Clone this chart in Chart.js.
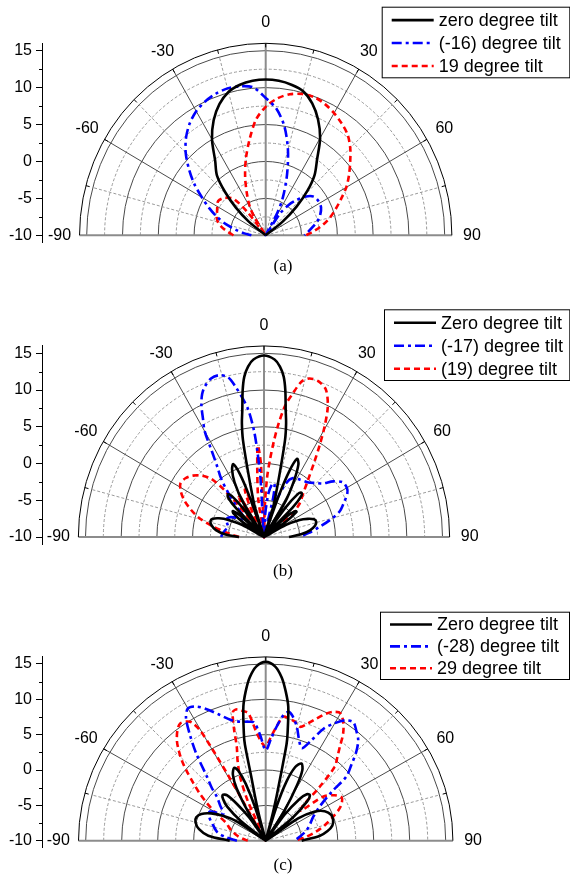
<!DOCTYPE html>
<html>
<head>
<meta charset="utf-8">
<script src="https://cdn.jsdelivr.net/npm/chart.js@4.4.1/dist/chart.umd.min.js"></script>
<style>
  body { margin: 0; background: #fff; width: 570px; height: 882px; position: relative; overflow: hidden; }
  canvas { position: absolute; left: 0; top: 0; }
</style>
</head>
<body>
<canvas id="chartA" width="570" height="882"></canvas>
<canvas id="chartB" width="570" height="882"></canvas>
<canvas id="chartC" width="570" height="882"></canvas>
<script>
// radiation patterns, gain in dB against angle in degrees (-10 dB sits at the centre)
const angleTicks = [-90, -60, -30, 0, 30, 60, 90];
const gainMin = -10;
const gainTop = 15;      // last labelled ring
const gainFrame = 16;    // outer frame ring
const ringStep = 2.5;

// (a)
const aLabels = ['zero degree tilt', '(-16) degree tilt', '19 degree tilt'];
const aZeroAngles = [-56,-52,-48,-44,-40,-35,-30,-25,-20,-15,-10,-5,0,5,10,15,20,25,30,35,40,44,48,52,56];
const aZeroGain   = [-10,-7.0,-4.4,-1.8,0.6,2.3,5.0,7.2,8.9,10.1,10.7,11.0,11.1,11.0,10.7,10.2,9.0,7.3,5.2,2.5,0.6,-1.6,-4.2,-7.0,-10];
const aNegAngles = [-90,-85,-80,-75,-70,-65,-60,-55,-50,-45,-40,-35,-30,-25,-20,-15,-10,-5,0,5,10,15,20,25,28,31,34,38,42,47,52,58,64,70,75,80,85,90];
const aNegGain   = [-8,-7,-5.8,-4.3,-2.8,-1.3,0.3,2.2,4.0,5.8,7.3,8.5,9.4,10.0,10.4,10.6,10.5,10.1,8.6,7.2,5.0,2.0,-1.3,-4.3,-6.5,-10,-6.5,-4.8,-3.6,-2.3,-1.5,-1.3,-1.4,-1.9,-2.5,-3.3,-4.0,-4.6];
const aPosAngles = [-90,-85,-80,-75,-70,-65,-60,-55,-50,-46,-42,-39,-36,-33,-30,-25,-20,-15,-10,-5,0,5,10,15,20,25,30,35,40,45,50,55,60,65,70,75,80,85,90];
const aPosGain   = [-5.5,-4.7,-3.8,-3.1,-2.7,-2.5,-2.2,-1.9,-2.2,-2.7,-3.4,-6,-10,-7.3,-5.6,-3.8,-1.6,0.7,3.1,5.7,7.4,8.6,9.4,9.8,9.9,9.6,9.1,8.5,7.8,6.7,5.4,4.2,3.0,1.6,0.4,-0.7,-1.9,-3.2,-4.4];

// (b)
const bLabels = ['Zero degree tilt', '(-17) degree tilt', '(19) degree tilt'];
const bZeroAngles = [-90,-86,-82,-78,-74,-71,-68,-65,-62,-59,-56,-53,-51,-49,-47,-45,-43,-41,-39,-37,-35,-32,-29,-26,-23.5,-21.5,-20.3,-19.3,-17.4,-16,-14.2,-12.6,-11.3,-10,-8.5,-7.2,-5.5,-3.5,0,3.5,5.5,7.2,8.5,10,11.3,12.6,14.2,16,17.4,19.3,20.3,21.5,23.5,26,29,32,35,37,39,41,43,45,47,49,51,53,56,59,62,65,68,71,74,78,82,86,90];
const bZeroGain   = [-6.5,-4.5,-3.2,-2.5,-2.2,-2.4,-3.2,-4.5,-6.5,-10,-6.5,-4.6,-4.4,-5.5,-10,-4.5,-2.6,-2.3,-2.8,-5,-10,-4.5,-1.5,0.2,0.8,-0.8,-4,-10,-5.7,-4,-1.0,3.5,5.8,7.5,10.2,12.0,13.3,14.2,14.7,14.2,13.3,12.0,10.2,7.5,5.8,3.5,-1.0,-4,-5.7,-10,-4,-0.5,1.6,1.0,-1.5,-4.5,-10,-5,-2.5,-2.0,-2.3,-4.3,-10,-5.5,-4.4,-4.3,-6.5,-10,-6.5,-4.5,-3.4,-2.6,-2.4,-2.7,-3.5,-4.8,-6.5];
const bNegAngles = [-90,-85,-80,-75,-70,-65,-60,-55,-50,-46,-43,-40,-37,-34.5,-32,-30,-28,-26,-24,-22,-19,-16,-13,-11,-9,-7.2,-5.5,-4.5,-3.5,-2,3,6,9,11.5,13.5,16,19,23,27,33,40,45,48.5,52,56,60,63,67,72,76,80,85,90];
const bNegGain   = [-4.0,-4.2,-4.5,-4.8,-4.5,-4.2,-4.6,-5.5,-6.3,-6.0,-4.5,-2.3,0.0,1.5,3.8,6.6,8.2,10.0,11.3,12.1,12.8,12.9,12.3,10.8,9.1,7.4,4.5,1.5,-2,-10,-7,-4,-2.7,-2.6,-4.5,-10,-5,-2,-1.0,-0.7,-0.3,0.4,1.0,2.3,3.3,3.4,3.1,2.2,1.1,-0.5,-2.1,-3.7,-5];
const bPosAngles = [-90,-86,-82,-78,-74,-70,-66,-62,-58,-54,-50,-46,-43,-41,-39.5,-38,-35,-33,-31,-29,-25,-22.5,-20,-18,-9,-6,-4,-2.5,-1,1.5,3,4.5,6,7.5,9.5,11.5,14,16.5,20,23.5,26.8,29.5,32,34.5,38.5,43,47.5,52,56];
const bPosGain   = [-6.5,-5.5,-4.2,-2.4,-0.5,0.9,2.2,3.2,3.8,3.6,3.0,2.0,0.8,-1.5,-5,-10,-5,-3.5,-5,-10,-5,-3,-5.5,-10,-5,-1,2.5,0,-10,-6,-2,0.5,3.0,5.5,8.2,9.8,11.8,12.5,12.5,11.8,9.8,7.2,4.7,2.5,-0.1,-2.0,-3.2,-5.2,-10];

// (c)
const cLabels = ['Zero degree tilt', '(-28) degree tilt', '29 degree tilt'];
const cZeroAngles = [-90,-85,-80,-75,-71,-67,-63,-59,-56,-53.5,-51,-48,-45,-42.5,-40,-37.5,-35,-33,-31,-28.5,-26,-23,-21,-19,-17.3,-16,-14.5,-13.3,-12.5,-12,-11.3,-9.3,-7.5,-5.5,-3,0,3,5.5,7.5,9.4,11.3,12,12.7,13.5,14.5,16,17.3,19,21.5,24.5,27,29,31.5,33.5,35.5,38.5,41,43.6,46,49,52,55,59,63,68,72.8,77,81,85,90];
const cZeroGain   = [-5,-2.0,-0.6,0.1,0.2,-0.3,-1.5,-3.2,-5,-10,-5.5,-2.8,-1.6,-1.2,-1.6,-3.5,-6,-10,-5.5,-1.5,0.4,1.2,0.6,-1.5,-5,-10,-6.7,-3.5,-0.9,3.9,5.5,9.2,11.3,13.2,14.7,15.3,14.7,13.2,11.3,9.2,5.5,3.9,-0.5,-3.5,-6.7,-10,-5,-1.2,1.2,2.0,1.2,-1.0,-5,-10,-5.5,-2.5,-1.3,-1.1,-2,-5,-10,-4.5,-2,-0.8,-0.2,-0.2,-0.5,-1.3,-2.5,-5];
const cNegAngles = [-90,-85,-80,-72,-67,-62,-57,-52,-47.5,-45,-42,-38,-35,-32.5,-30,-27,-24,-20,-16,-12,-8,-5.5,-3,0,3,5.5,8,10,12,15,18,21,24,27,30,33,36,39,42,45,48,51,53,57,63,70,76,83,90];
const cNegGain   = [-6,-4.5,-3.2,-2.2,-1.5,-1.2,-3,-2,-0.8,0.6,2.2,5.7,8.4,10.6,11.6,11.3,10.4,9.0,7.8,7.2,7.0,6.8,5.0,2.8,4.5,6.3,8.0,8.5,8.0,6.7,5.0,4.0,5.5,7.8,9.2,10.3,10.7,10.0,9.2,7.8,6.0,4.4,1.5,-1,-2.6,-3.5,-4.2,-5.2,-6];
const cPosAngles = [-90,-85,-80,-75,-70,-65.5,-61,-57,-54,-51,-48,-45.7,-43,-41,-38,-35.6,-33,-31.5,-30.3,-29.8,-29.4,-28.5,-24,-21.5,-19,-16.8,-15.5,-14,-12,-9.7,-7.6,-4.7,-2,0,2.5,5.3,7.9,10.5,13.6,16.5,19.5,22.3,25,27.3,30,33,35.5,37.8,40,42.5,44.5,46.5,49,52,56,60,65,70,75,80,85,90];
const cPosGain   = [-7.5,-6.8,-6,-5.3,-4.6,-4.0,-2.2,-0.3,1.3,2.9,4.8,6.3,7.8,8.8,9.9,10.4,10.1,9.6,8.1,5,0,-10,-4,-0.3,2.0,3.9,6.5,8.8,9.0,8.6,8.2,5.3,3.8,3.3,4.5,6.2,7.7,7.6,7.3,6.8,7.6,8.7,9.8,10.5,10.8,9.8,8.5,6.8,5.5,4.2,0.7,-3,-3.5,0.1,1.5,2.2,1.5,0.0,-1.5,-3,-4.5,-6];

const sansFont = '"Liberation Sans", Arial, Helvetica, sans-serif';
const serifFont = '"Liberation Serif", "Times New Roman", serif';

// angle/gain -> x/y in dB units, x across, y up from the -10 dB centre
function polarPoints(angles, gains) {
  return angles.map((a, i) => {
    const r = Math.max(0, gains[i] - gainMin);
    const t = a * Math.PI / 180;
    return { x: r * Math.sin(t), y: gainMin + r * Math.cos(t) };
  });
}

function frame(chart) {
  const { x, y } = chart.scales;
  const cx = x.getPixelForValue(0);
  const cy = y.getPixelForValue(gainMin);
  const kx = x.getPixelForValue(1) - cx;
  const ky = cy - y.getPixelForValue(gainMin + 1);
  return {
    cx, cy, kx, ky,
    at(r, deg) {
      const t = deg * Math.PI / 180;
      return [cx + kx * r * Math.sin(t), cy - ky * r * Math.cos(t)];
    }
  };
}

function line(ctx, p, q) {
  ctx.beginPath();
  ctx.moveTo(p[0], p[1]);
  ctx.lineTo(q[0], q[1]);
  ctx.stroke();
}

const polarFrame = {
  id: 'polarFrame',
  beforeDatasetsDraw(chart) {
    const ctx = chart.ctx;
    const f = frame(chart);
    const rTop = gainTop - gainMin;
    const rFrame = gainFrame - gainMin;
    ctx.save();
    ctx.lineWidth = 1;
    // rings
    for (let r = ringStep; r <= rTop + 1e-6; r += ringStep) {
      const major = Math.abs(r / 5 - Math.round(r / 5)) < 1e-6;
      ctx.setLineDash(major ? [] : [3, 2]);
      ctx.strokeStyle = major ? '#4a4a4a' : '#9a9a9a';
      ctx.beginPath();
      ctx.ellipse(f.cx, f.cy, f.kx * r, f.ky * r, 0, Math.PI, 2 * Math.PI);
      ctx.stroke();
    }
    // spokes
    for (let a = -75; a <= 75; a += 15) {
      if (a === 0) continue;
      if (a % 30 === 0) {
        ctx.setLineDash([]);
        ctx.strokeStyle = '#4a4a4a';
        line(ctx, f.at(0, a), f.at(rFrame, a));
      } else {
        ctx.setLineDash([3, 2]);
        ctx.strokeStyle = '#9a9a9a';
        line(ctx, f.at(0, a), f.at(rTop, a));
      }
    }
    ctx.setLineDash([]);
    ctx.strokeStyle = '#8c8c8c';
    ctx.lineWidth = 2;
    line(ctx, f.at(0, 0), f.at(rFrame, 0));
    line(ctx, f.at(rFrame, -90), f.at(rFrame, 90));
    // frame ring with ticks every 15 degrees
    ctx.strokeStyle = '#000';
    ctx.lineWidth = 1;
    ctx.beginPath();
    ctx.ellipse(f.cx, f.cy, f.kx * rFrame, f.ky * rFrame, 0, Math.PI, 2 * Math.PI);
    ctx.stroke();
    for (let a = -75; a <= 75; a += 15) {
      line(ctx, f.at(rFrame, a), f.at(rFrame - 0.55, a));
    }
    ctx.restore();
  },
  afterDraw(chart, args, opts) {
    const ctx = chart.ctx;
    const f = frame(chart);
    const area = chart.chartArea;
    const ys = chart.scales.y;
    ctx.save();
    // minor ticks on the gain axis
    ctx.strokeStyle = '#000';
    ctx.lineWidth = 1;
    for (let g = gainMin + ringStep; g < gainTop; g += 5) {
      const py = Math.round(ys.getPixelForValue(g)) + 0.5;
      line(ctx, [area.left - 3, py], [area.left, py]);
    }
    // angle labels
    ctx.fillStyle = '#000';
    ctx.font = '16px ' + sansFont;
    ctx.textAlign = 'center';
    ctx.textBaseline = 'middle';
    angleTicks.forEach(a => {
      const p = f.at(28.8, a);
      ctx.fillText(String(a), p[0], p[1]);
    });
    // legend
    const lg = opts.legend;
    ctx.strokeStyle = '#000';
    ctx.lineWidth = 1;
    ctx.strokeRect(lg.x + 0.5, lg.y + 0.5, lg.w, lg.h);
    ctx.font = '18px ' + sansFont;
    ctx.textAlign = 'left';
    chart.data.datasets.forEach((ds, i) => {
      const yy = lg.y + lg.h * (0.19 + 0.325 * i);
      ctx.setLineDash(ds.borderDash || []);
      ctx.strokeStyle = ds.borderColor;
      ctx.lineWidth = ds.borderWidth;
      line(ctx, [lg.x + 10, yy], [lg.x + 52, yy]);
      ctx.setLineDash([]);
      ctx.fillText(ds.label, lg.x + 57, yy + 1);
    });
    // caption
    ctx.font = '17px ' + serifFont;
    ctx.textAlign = 'center';
    ctx.fillText(opts.caption, 283, opts.captionY);
    ctx.restore();
  }
};

function makeChart(id, labels, series, geo, legend, caption, captionY) {
  const axisX = 42;
  const rFrame = gainFrame - gainMin;
  const styles = [
    { color: '#000000', dash: [] },
    { color: '#0000ff', dash: [10, 4, 3, 4] },
    { color: '#ff0000', dash: [6, 4] }
  ];
  return new Chart(document.getElementById(id), {
    type: 'scatter',
    data: {
      datasets: series.map((s, i) => ({
        label: labels[i],
        data: polarPoints(s[0], s[1]),
        showLine: true,
        borderColor: styles[i].color,
        borderDash: styles[i].dash,
        borderWidth: 2.6,
        pointRadius: 0,
        tension: 0.3,
        fill: false
      }))
    },
    options: {
      responsive: false,
      animation: false,
      events: [],
      layout: {
        padding: {
          left: 0,
          right: 570 - (geo.cx + rFrame * geo.sx),
          top: geo.cy - rFrame * geo.sy,
          bottom: 882 - (geo.cy + geo.sy)
        }
      },
      scales: {
        x: {
          type: 'linear',
          display: false,
          min: -(geo.cx - axisX) / geo.sx,
          max: rFrame
        },
        y: {
          type: 'linear',
          min: gainMin - 1,
          max: gainFrame,
          afterFit(scale) { scale.width = axisX; },
          ticks: {
            stepSize: 5,
            includeBounds: false,
            color: '#000',
            padding: 4,
            font: { family: sansFont, size: 16 }
          },
          grid: { drawOnChartArea: false, drawTicks: true, tickLength: 6, tickColor: '#000', color: '#000' },
          border: { display: true, color: '#000', width: 1 }
        }
      },
      plugins: {
        legend: { display: false },
        tooltip: { enabled: false },
        polarFrame: { legend, caption, captionY }
      }
    },
    plugins: [polarFrame]
  });
}

makeChart('chartA', aLabels,
  [[aZeroAngles, aZeroGain], [aNegAngles, aNegGain], [aPosAngles, aPosGain]],
  { cx: 265.7, cy: 235.3, sx: 7.16, sy: 7.384 },
  { x: 381.7, y: 6.7, w: 187.6, h: 70.6 }, '(a)', 267);

makeChart('chartB', bLabels,
  [[bZeroAngles, bZeroGain], [bNegAngles, bNegGain], [bPosAngles, bPosGain]],
  { cx: 264, cy: 537, sx: 7.14, sy: 7.348 },
  { x: 384, y: 309.3, w: 185.3, h: 70.7 }, '(b)', 572);

makeChart('chartC', cLabels,
  [[cZeroAngles, cZeroGain], [cNegAngles, cNegGain], [cPosAngles, cPosGain]],
  { cx: 265.7, cy: 840.7, sx: 7.2, sy: 7.07 },
  { x: 380, y: 611.7, w: 189, h: 67.3 }, '(c)', 866);
</script>
</body>
</html>
